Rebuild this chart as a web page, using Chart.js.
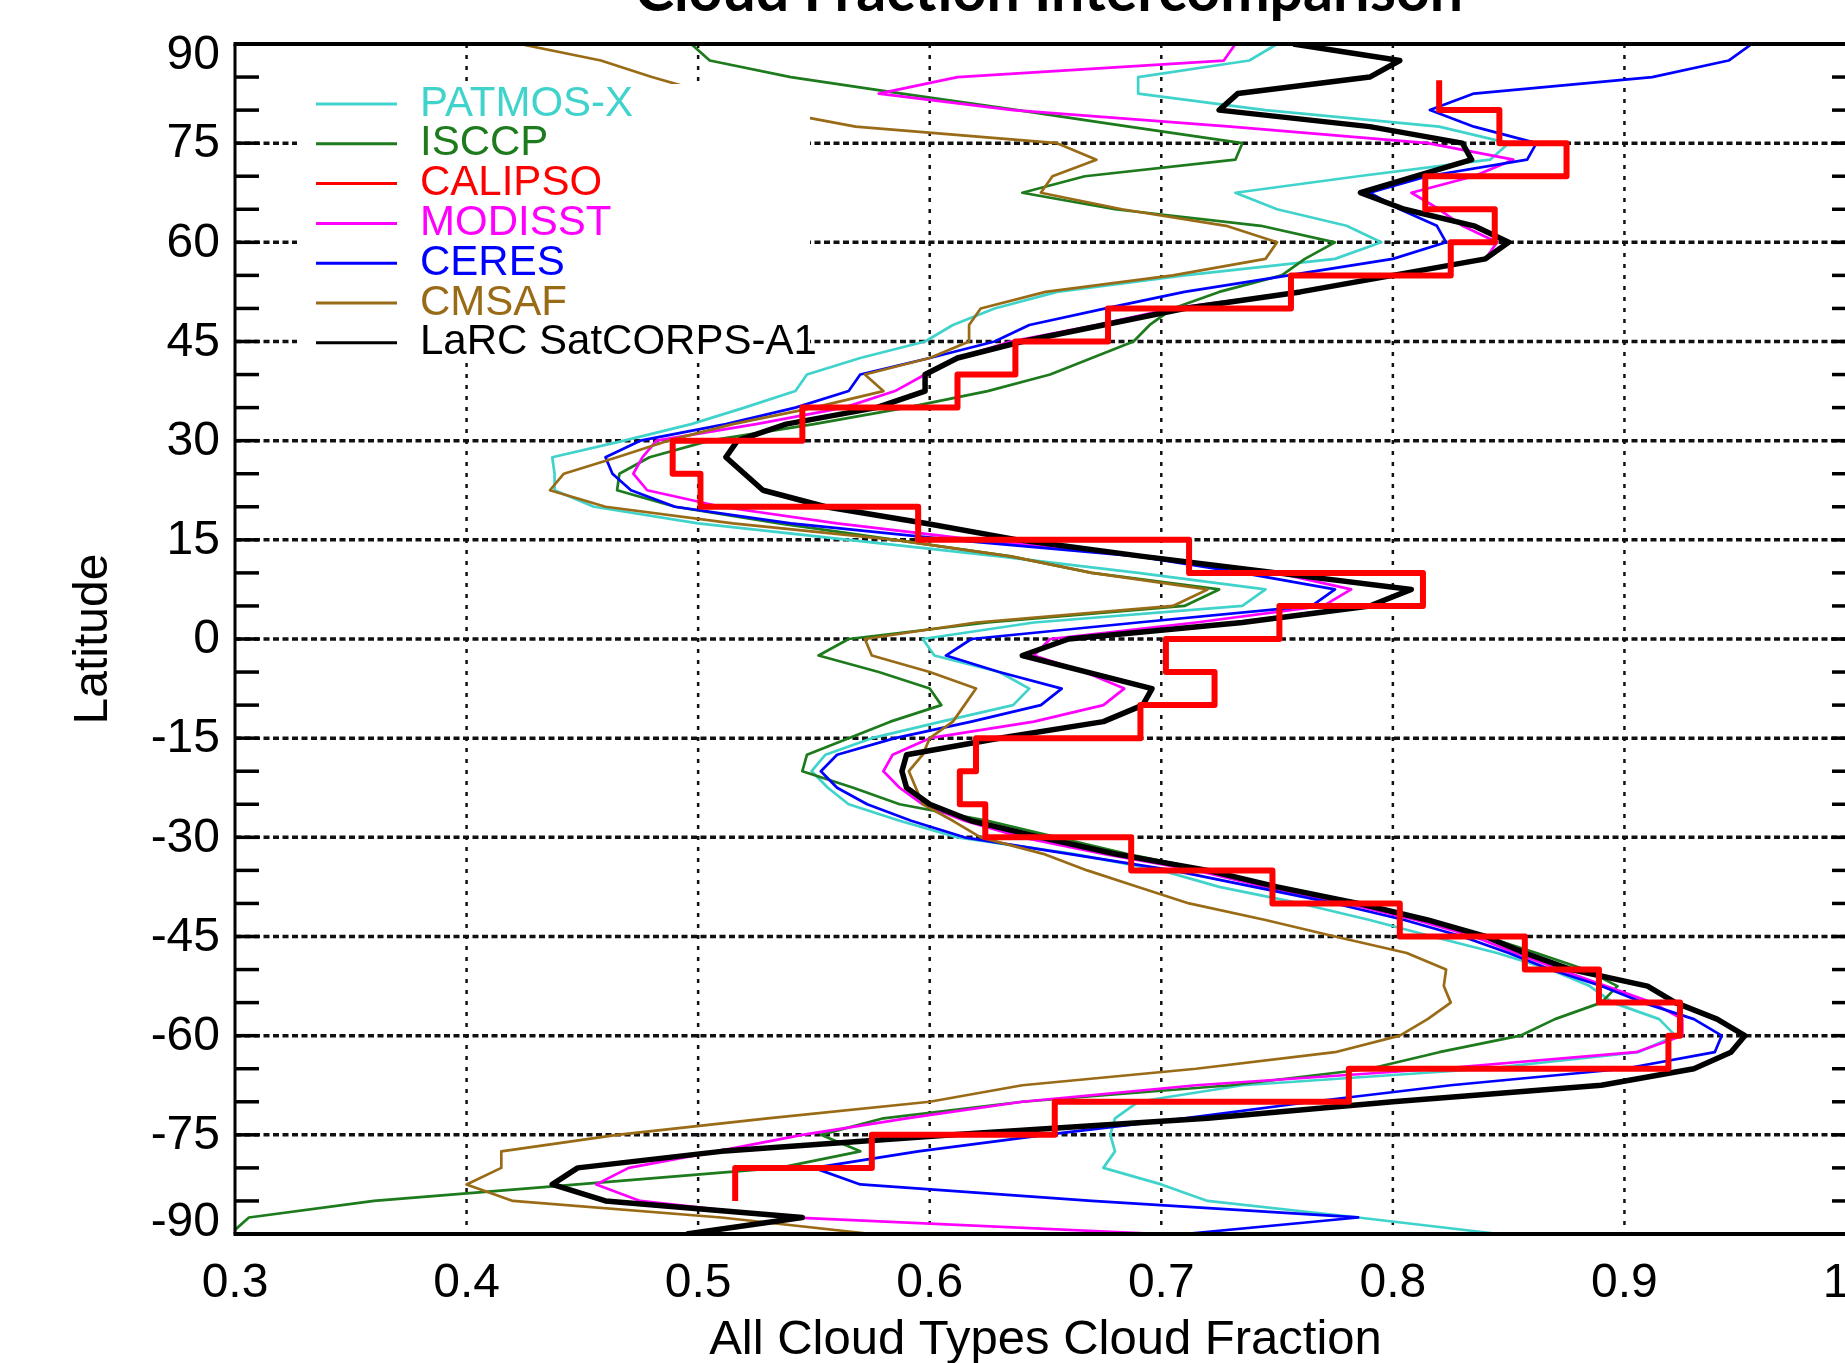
<!DOCTYPE html>
<html>
<head>
<meta charset="utf-8">
<title>Cloud Fraction Intercomparison</title>
<script src="https://cdn.jsdelivr.net/npm/chart.js@4.4.1/dist/chart.umd.min.js"></script>
<style>
  html, body { margin: 0; padding: 0; background: #fff; overflow: hidden; }
  #wrap { width: 1845px; height: 1363px; overflow: hidden; }
  canvas { display: block; }
</style>
</head>
<body>
<div id="wrap"><canvas id="cloud-chart" width="1900" height="1363"></canvas></div>
<script>
// latitude of every sample (deg), north to south
const latitudes = [
  90, 87.5, 85, 82.5, 80, 77.5, 75, 72.5, 70, 67.5, 65, 62.5, 60, 57.5, 55, 52.5, 50, 47.5,
  45, 42.5, 40, 37.5, 35, 32.5, 30, 27.5, 25, 22.5, 20, 17.5, 15, 12.5, 10, 7.5, 5, 2.5,
  0, -2.5, -5, -7.5, -10, -12.5, -15, -17.5, -20, -22.5, -25, -27.5, -30, -32.5, -35, -37.5,
  -40, -42.5, -45, -47.5, -50, -52.5, -55, -57.5, -60, -62.5, -65, -67.5, -70, -72.5, -75,
  -77.5, -80, -82.5, -85, -87.5, -90
];

const patmosx = [
  0.750, 0.738, 0.690, 0.690, 0.745, 0.820, 0.850, 0.842, 0.785, 0.732, 0.750, 0.780, 0.795, 0.775, 0.710, 0.655, 0.628, 0.610,
  0.598, 0.570, 0.547, 0.542, 0.520, 0.497, 0.468, 0.437, 0.438, 0.438, 0.455, 0.500, 0.565, 0.630, 0.690, 0.745, 0.735, 0.645,
  0.597, 0.602, 0.630, 0.643, 0.636, 0.605, 0.575, 0.555, 0.549, 0.556, 0.565, 0.587, 0.612, 0.662, 0.700, 0.725,
  0.760, 0.790, 0.817, 0.845, 0.868, 0.885, 0.895, 0.915, 0.922, 0.906, 0.840, 0.735, 0.690, 0.680, 0.678,
  0.680, 0.675, 0.700, 0.720, 0.785, 0.846
];

const isccp = [
  0.497, 0.505, 0.540, 0.588, 0.638, 0.686, 0.735, 0.732, 0.667, 0.640, 0.680, 0.743, 0.775, 0.762, 0.752, 0.725, 0.705, 0.695,
  0.688, 0.670, 0.652, 0.625, 0.590, 0.550, 0.505, 0.479, 0.466, 0.465, 0.490, 0.535, 0.585, 0.635, 0.670, 0.725, 0.710, 0.625,
  0.565, 0.552, 0.578, 0.600, 0.605, 0.583, 0.565, 0.547, 0.545, 0.567, 0.587, 0.625, 0.655, 0.685, 0.720, 0.750,
  0.785, 0.815, 0.840, 0.862, 0.883, 0.897, 0.890, 0.870, 0.855, 0.820, 0.790, 0.730, 0.640, 0.580, 0.553,
  0.570, 0.535, 0.448, 0.360, 0.306, 0.298
];

const modisst = [
  0.732, 0.727, 0.612, 0.578, 0.636, 0.730, 0.815, 0.852, 0.835, 0.808, 0.820, 0.830, 0.845, 0.840, 0.800, 0.760, 0.705, 0.672,
  0.635, 0.612, 0.598, 0.585, 0.563, 0.525, 0.482, 0.476, 0.472, 0.478, 0.510, 0.560, 0.620, 0.695, 0.750, 0.782, 0.770, 0.715,
  0.652, 0.645, 0.667, 0.684, 0.675, 0.645, 0.600, 0.584, 0.580, 0.587, 0.597, 0.615, 0.640, 0.675, 0.715, 0.745,
  0.780, 0.810, 0.835, 0.853, 0.872, 0.892, 0.912, 0.925, 0.925, 0.905, 0.820, 0.715, 0.640, 0.590, 0.545,
  0.508, 0.470, 0.456, 0.475, 0.540, 0.700
];

const ceres = [
  0.955, 0.945, 0.912, 0.835, 0.816, 0.835, 0.862, 0.858, 0.815, 0.790, 0.803, 0.819, 0.823, 0.800, 0.755, 0.710, 0.676, 0.643,
  0.628, 0.600, 0.570, 0.565, 0.542, 0.512, 0.475, 0.460, 0.463, 0.471, 0.490, 0.540, 0.610, 0.690, 0.735, 0.775, 0.765, 0.690,
  0.618, 0.607, 0.630, 0.657, 0.648, 0.618, 0.585, 0.560, 0.553, 0.560, 0.573, 0.592, 0.615, 0.660, 0.705, 0.740,
  0.775, 0.805, 0.830, 0.850, 0.868, 0.890, 0.908, 0.930, 0.942, 0.939, 0.900, 0.825, 0.765, 0.710, 0.650,
  0.595, 0.550, 0.570, 0.670, 0.785, 0.710
];

const cmsaf = [
  0.423, 0.458, 0.480, 0.505, 0.530, 0.568, 0.655, 0.672, 0.653, 0.648, 0.683, 0.728, 0.750, 0.745, 0.705, 0.650, 0.622, 0.617,
  0.617, 0.600, 0.572, 0.580, 0.550, 0.515, 0.487, 0.465, 0.442, 0.436, 0.460, 0.515, 0.585, 0.635, 0.670, 0.720, 0.705, 0.620,
  0.572, 0.575, 0.600, 0.620, 0.615, 0.610, 0.600, 0.597, 0.591, 0.594, 0.597, 0.610, 0.622, 0.649, 0.668, 0.690,
  0.712, 0.745, 0.775, 0.806, 0.823, 0.822, 0.825, 0.815, 0.803, 0.775, 0.715, 0.640, 0.600, 0.530, 0.465,
  0.415, 0.415, 0.400, 0.420, 0.510, 0.575
];

const larc = [
  0.757, 0.803, 0.790, 0.733, 0.725, 0.790, 0.830, 0.834, 0.810, 0.786, 0.805, 0.835, 0.850, 0.840, 0.800, 0.760, 0.710, 0.675,
  0.640, 0.612, 0.598, 0.598, 0.577, 0.538, 0.517, 0.512, 0.520, 0.528, 0.555, 0.598, 0.638, 0.692, 0.750, 0.808, 0.790, 0.735,
  0.660, 0.640, 0.668, 0.696, 0.692, 0.675, 0.630, 0.590, 0.588, 0.590, 0.600, 0.618, 0.648, 0.680, 0.720, 0.750,
  0.785, 0.815, 0.840, 0.857, 0.877, 0.910, 0.922, 0.940, 0.952, 0.946, 0.930, 0.890, 0.800, 0.720, 0.610,
  0.510, 0.448, 0.437, 0.460, 0.545, 0.495
];

// CALIPSO is binned: value holds from each bin's north edge down to the next one
const calipsoLat = [
  84.5, 80, 75, 70, 65, 60, 55, 50, 45, 40, 35, 30, 25, 20, 15, 10, 5, 0,
  -5, -10, -15, -20, -25, -30, -35, -40, -45, -50, -55, -60, -65, -70, -75, -80, -85
];
const calipso = [
  0.820, 0.846, 0.875, 0.814, 0.844, 0.825, 0.756, 0.677, 0.637, 0.612, 0.545, 0.489, 0.501, 0.595, 0.712, 0.813, 0.751, 0.702,
  0.723, 0.691, 0.620, 0.613, 0.624, 0.687, 0.748, 0.803, 0.857, 0.889, 0.924, 0.919, 0.781, 0.654, 0.575, 0.516, 0.516
];

const xTickValues = [0.3, 0.4, 0.5, 0.6, 0.7, 0.8, 0.9, 1.0];
const xTickLabels = ['0.3', '0.4', '0.5', '0.6', '0.7', '0.8', '0.9', '1.0'];
const yTickValues = [90, 75, 60, 45, 30, 15, 0, -15, -30, -45, -60, -75, -90];
const yTickLabels = ['90', '75', '60', '45', '30', '15', '0', '-15', '-30', '-45', '-60', '-75', '-90'];

const seriesNames = ['PATMOS-X', 'ISCCP', 'CALIPSO', 'MODISST', 'CERES', 'CMSAF', 'LaRC SatCORPS-A1'];
const seriesColors = ['#40d3cb', '#1d7a1d', '#ff0000', '#ff00ff', '#0000ff', '#9a6b16', '#000000'];

const FONT = '"Liberation Sans", Arial, Helvetica, sans-serif';

function toPoints(lats, values) {
  return lats.map((lat, i) => ({ x: values[i], y: lat }));
}

function line(ctx, x1, y1, x2, y2) {
  ctx.beginPath();
  ctx.moveTo(x1, y1);
  ctx.lineTo(x2, y2);
  ctx.stroke();
}

const framePlugin = {
  id: 'frame',
  beforeDatasetsDraw(chart) {
    const { ctx, chartArea: a, scales: { x, y } } = chart;
    ctx.save();
    ctx.strokeStyle = '#111';
    // vertical dotted grid
    ctx.lineWidth = 2.5;
    ctx.setLineDash([4, 7]);
    xTickValues.forEach(v => {
      if (v <= x.min || v >= x.max) return;
      const px = x.getPixelForValue(v);
      line(ctx, px, a.top, px, a.bottom);
    });
    // horizontal dashed grid
    ctx.lineWidth = 3.5;
    ctx.setLineDash([6, 3.5]);
    yTickValues.forEach(v => {
      if (v <= y.min || v >= y.max) return;
      const py = y.getPixelForValue(v);
      line(ctx, a.left, py, a.right, py);
    });
    ctx.restore();
  },
  afterDatasetsDraw(chart) {
    const { ctx, chartArea: a, scales: { x, y } } = chart;
    ctx.save();

    // legend, white box over the plot
    ctx.fillStyle = '#fff';
    ctx.fillRect(297, 84, 513, 276);
    ctx.font = '42px ' + FONT;
    ctx.textAlign = 'left';
    ctx.textBaseline = 'middle';
    ctx.lineWidth = 3;
    seriesNames.forEach((name, i) => {
      const ry = 104 + i * 39.8;
      ctx.strokeStyle = seriesColors[i];
      line(ctx, 316, ry, 397, ry);
      ctx.fillStyle = seriesColors[i];
      ctx.fillText(name, 420, ry);
    });

    // frame
    ctx.strokeStyle = '#000';
    ctx.lineWidth = 4;
    line(ctx, a.left - 1.5, a.top, a.right + 2, a.top);
    line(ctx, a.left - 1.5, a.bottom, a.right + 2, a.bottom);
    ctx.lineWidth = 3;
    line(ctx, a.left, a.top, a.left, a.bottom);
    line(ctx, a.right, a.top, a.right, a.bottom);

    // latitude tick marks every 5 deg, both sides, pointing in
    ctx.lineWidth = 3.5;
    for (let lat = -90; lat <= 90; lat += 5) {
      const py = y.getPixelForValue(lat);
      line(ctx, a.left, py, a.left + 24, py);
      line(ctx, a.right, py, a.right - 24, py);
    }

    // tick labels
    ctx.fillStyle = '#000';
    ctx.font = '48px ' + FONT;
    ctx.textAlign = 'right';
    yTickValues.forEach((v, i) => {
      let py = y.getPixelForValue(v);
      if (v === y.max) py += 11;
      if (v === y.min) py -= 12;
      ctx.fillText(yTickLabels[i], a.left - 15, py + 1);
    });
    ctx.textAlign = 'center';
    xTickValues.forEach((v, i) => {
      ctx.fillText(xTickLabels[i], x.getPixelForValue(v), a.bottom + 50);
    });

    // axis titles
    ctx.font = '49px ' + FONT;
    ctx.fillText('All Cloud Types Cloud Fraction', (a.left + a.right) / 2, 1340);
    ctx.font = '48px ' + FONT;
    ctx.save();
    ctx.translate(94, (a.top + a.bottom) / 2);
    ctx.rotate(-Math.PI / 2);
    ctx.fillText('Latitude', 0, 0);
    ctx.restore();

    // chart title, cut by the top edge as in the source figure
    ctx.font = 'bold 59px Lato, "Open Sans", sans-serif';
    ctx.textBaseline = 'alphabetic';
    ctx.fillText('Cloud Fraction Intercomparison', 1049, 11);

    ctx.restore();
  }
};

const ctx = document.getElementById('cloud-chart');

// drawn bottom to top: CALIPSO last so its steps sit over the rest
const datasets = [
  { label: 'PATMOS-X', data: toPoints(latitudes, patmosx), borderColor: seriesColors[0], borderWidth: 2.7, order: 7 },
  { label: 'ISCCP', data: toPoints(latitudes, isccp), borderColor: seriesColors[1], borderWidth: 2.7, order: 6 },
  { label: 'CALIPSO', data: toPoints(calipsoLat, calipso), borderColor: seriesColors[2], borderWidth: 6, stepped: 'after', order: 1 },
  { label: 'MODISST', data: toPoints(latitudes, modisst), borderColor: seriesColors[3], borderWidth: 2.7, order: 5 },
  { label: 'CERES', data: toPoints(latitudes, ceres), borderColor: seriesColors[4], borderWidth: 2.7, order: 4 },
  { label: 'CMSAF', data: toPoints(latitudes, cmsaf), borderColor: seriesColors[5], borderWidth: 2.7, order: 3 },
  { label: 'LaRC SatCORPS-A1', data: toPoints(latitudes, larc), borderColor: seriesColors[6], borderWidth: 5.5, order: 2 }
];
datasets.forEach(d => {
  d.showLine = true;
  d.pointRadius = 0;
  d.pointHoverRadius = 0;
  d.tension = 0;
  d.fill = false;
  d.borderJoinStyle = 'round';
});

new Chart(ctx, {
  type: 'scatter',
  data: { datasets: datasets },
  options: {
    responsive: false,
    devicePixelRatio: 1,
    animation: false,
    events: [],
    layout: { padding: { left: 235, top: 44, right: 44, bottom: 129 } },
    plugins: {
      legend: { display: false },
      tooltip: { enabled: false }
    },
    scales: {
      x: { type: 'linear', min: 0.3, max: 1.0, display: false },
      y: { type: 'linear', min: -90, max: 90, display: false }
    }
  },
  plugins: [framePlugin]
});
</script>
</body>
</html>
